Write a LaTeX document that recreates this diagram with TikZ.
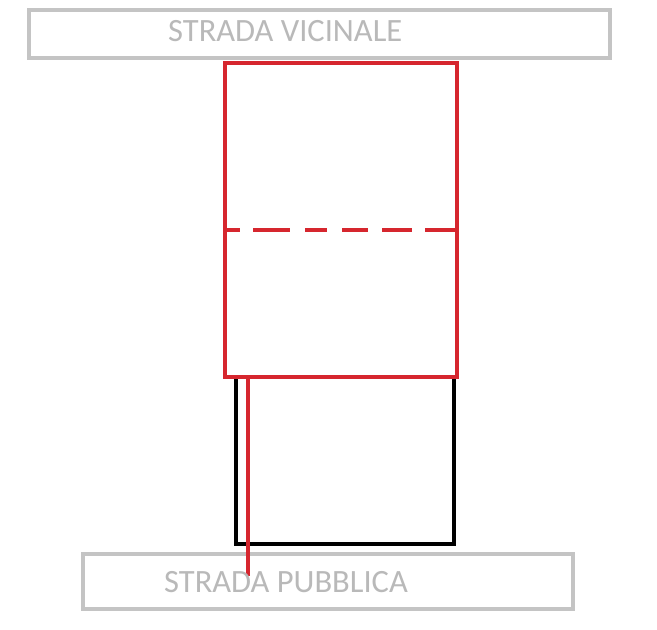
\documentclass[tikz,border=0pt]{standalone}
\usepackage{fontspec}
\setmainfont{Carlito}
\definecolor{roadgray}{RGB}{196,196,196}
\definecolor{textgray}{RGB}{185,185,185}
\definecolor{lotred}{RGB}{214,38,46}
\begin{document}
\begin{tikzpicture}[x=1pt,y=-1pt,
  road/.style={draw=roadgray,line width=4.5pt},
  roadtext/.style={text=textgray,font=\fontsize{32.5}{36}\selectfont,anchor=base west,inner sep=0pt},
  redline/.style={draw=lotred,line width=4pt},
  blackline/.style={draw=black,line width=4pt}]
\useasboundingbox (0,0) rectangle (657,630);
\fill[white] (0,0) rectangle (657,630);
% roads
\draw[road] (29,10) rectangle (610,58);
\node[roadtext] (tv) at (168,41) {STRADA VICINALE};
\draw[road] (83,554) rectangle (573,609);
% black lot
\draw[blackline] (236,377) rectangle (454,544);
% red lot
\draw[redline] (225,63) rectangle (457,377);
\foreach \a/\b in {225/240,253/290,305/327,342/368,382/412,425/457}
  \draw[redline] (\a,230) -- (\b,230);
% access line
\coordinate (p1) at (248,377);
\coordinate (p2) at (248,576);
\draw[redline] (p1) -- (p2);
\node[roadtext] (tp) at (164,592) {STRADA PUBBLICA};
\end{tikzpicture}
\end{document}
